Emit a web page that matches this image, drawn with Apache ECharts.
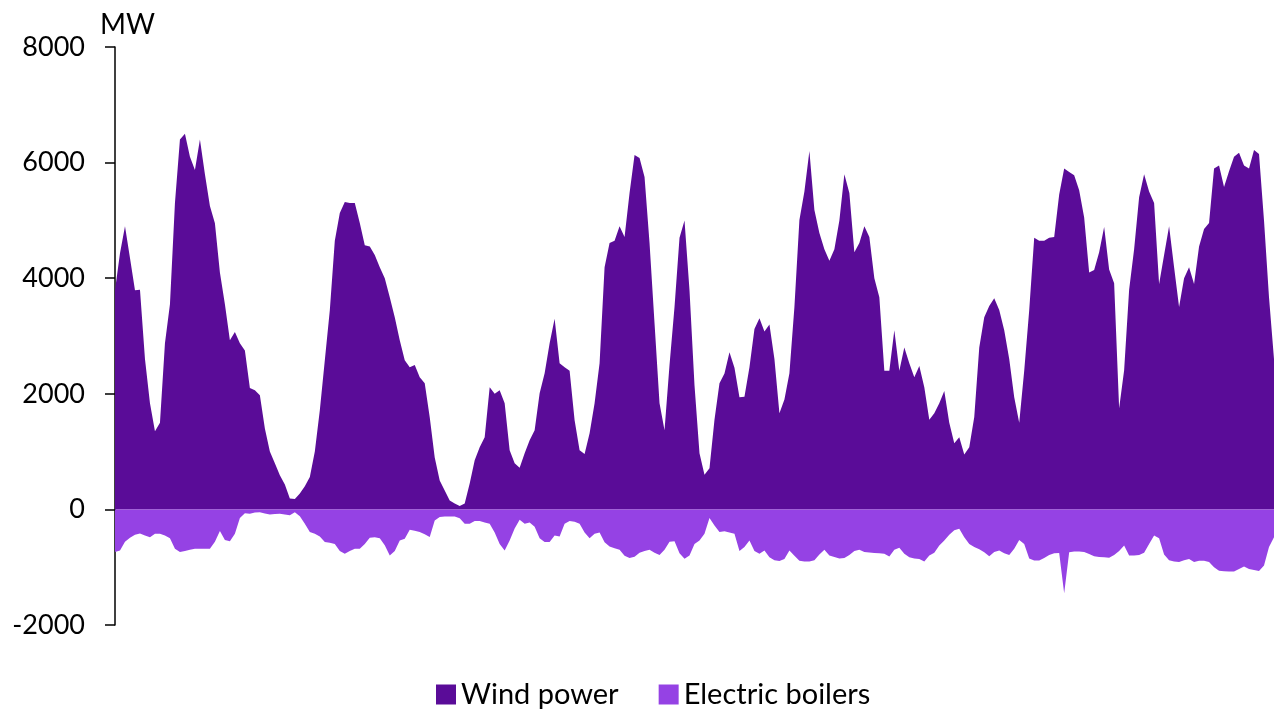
<!DOCTYPE html>
<html>
<head>
<meta charset="utf-8">
<script src="https://cdn.jsdelivr.net/npm/echarts@6/dist/echarts.min.js"></script>
<style>
html,body{margin:0;padding:0;background:#fff;}
#chart{width:1274px;height:710px;}
</style>
</head>
<body>
<div id="chart"></div>
<script>
// Sample index (uniform time steps across the period)
const windPower = [
3790,4430,4900,4350,3790,3800,2600,1836,1350,1500,
2875,3550,5300,6400,6500,6100,5870,6400,5800,5250,
4950,4100,3550,2927,3070,2875,2750,2100,2061,1974,
1400,1000,797,589,430,190,180,277,400,560,
1000,1715,2580,3447,4650,5127,5320,5300,5300,4953,
4570,4550,4400,4191,4000,3672,3325,2927,2580,2460,
2500,2286,2182,1593,900,502,329,156,104,60,
104,450,849,1074,1247,2113,2000,2061,1836,1022,
797,720,970,1195,1368,2009,2355,2875,3300,2529,
2460,2400,1541,1022,960,1316,1836,2529,4191,4607,
4650,4900,4711,5473,6131,6080,5750,4607,3221,1836,
1368,2500,3500,4700,5000,3793,2150,970,600,710,
1550,2182,2350,2719,2450,1940,1950,2460,3120,3308,
3080,3200,2600,1663,1900,2355,3500,5006,5500,6200,
5179,4780,4500,4300,4500,5000,5800,5473,4450,4607,
4900,4711,4000,3672,2400,2400,3100,2400,2800,2529,
2286,2480,2113,1550,1663,1836,2050,1500,1143,1250,
950,1074,1600,2800,3325,3520,3654,3450,3100,2600,
1940,1500,2400,3447,4700,4650,4650,4700,4711,5450,
5900,5837,5780,5520,5050,4100,4140,4450,4884,4150,
3914,1750,2407,3800,4500,5400,5800,5500,5300,3900,
4400,4900,4191,3500,4000,4191,3900,4550,4850,4953,
5900,5950,5577,5850,6100,6170,5950,5900,6218,6150,
5000,3672,2600
];
const electricBoilers = [
-739,-710,-560,-490,-440,-415,-450,-480,-421,-421,
-450,-500,-680,-739,-720,-700,-681,-681,-681,-681,
-560,-375,-530,-550,-420,-150,-65,-75,-55,-50,
-70,-87,-80,-75,-90,-100,-50,-120,-250,-392,
-420,-470,-565,-575,-600,-720,-767,-720,-681,-681,
-600,-490,-480,-500,-620,-796,-720,-537,-508,-352,
-370,-392,-430,-479,-190,-130,-121,-121,-121,-155,
-250,-250,-200,-200,-225,-248,-400,-600,-710,-537,
-330,-179,-248,-225,-300,-500,-565,-565,-450,-470,
-250,-200,-215,-250,-400,-500,-420,-400,-570,-640,
-670,-700,-800,-840,-820,-750,-720,-700,-750,-790,
-700,-560,-550,-760,-854,-796,-600,-540,-421,-150,
-280,-392,-380,-400,-421,-720,-650,-537,-720,-767,
-710,-830,-880,-894,-860,-710,-800,-890,-900,-900,
-880,-780,-700,-796,-825,-850,-840,-790,-720,-700,
-735,-745,-755,-760,-767,-814,-700,-664,-767,-830,
-850,-860,-900,-796,-750,-623,-537,-440,-360,-335,
-480,-600,-650,-690,-740,-810,-739,-710,-760,-790,
-680,-530,-600,-850,-883,-883,-840,-790,-760,-755,
-1450,-740,-727,-730,-739,-770,-810,-825,-830,-836,
-790,-720,-623,-796,-796,-790,-750,-600,-450,-500,
-780,-880,-900,-912,-880,-860,-912,-890,-890,-912,
-1000,-1060,-1070,-1073,-1073,-1030,-990,-1030,-1050,-1067,
-969,-650,-480
];
const categories = windPower.map((_, i) => i);
const seriesNames = ['Wind power', 'Electric boilers'];
const yTicks = { min: -2000, max: 8000, interval: 2000 };
const unitLabel = 'MW';

const FONT = 'Lato, "Open Sans", sans-serif';
const chart = echarts.init(document.getElementById('chart'));
chart.setOption({
  animation: false,
  backgroundColor: '#ffffff',
  grid: { left: 115, right: 0, top: 47, bottom: 85, containLabel: false },
  legend: {
    data: seriesNames,
    bottom: -4,
    left: 431,
    icon: 'rect',
    itemWidth: 20,
    itemHeight: 20,
    itemGap: 40,
    textStyle: { fontFamily: FONT, fontSize: 29, color: '#000' }
  },
  xAxis: {
    type: 'category',
    data: categories,
    boundaryGap: false,
    show: false
  },
  yAxis: {
    type: 'value',
    min: yTicks.min,
    max: yTicks.max,
    interval: yTicks.interval,
    name: unitLabel,
    nameLocation: 'end',
    nameGap: 8,
    nameTextStyle: { fontFamily: FONT, fontSize: 28, color: '#000', align: 'left', padding: [0, 0, 0, -15] },
    axisLine: { show: true, lineStyle: { color: '#000', width: 1.5 } },
    axisTick: { show: true, length: 10, lineStyle: { color: '#000', width: 1.5 } },
    axisLabel: { fontFamily: FONT, fontSize: 27, color: '#000', margin: 30, formatter: v => String(v) },
    splitLine: { show: false }
  },
  series: [
    {
      name: seriesNames[0],
      type: 'line',
      data: windPower,
      showSymbol: false,
      symbol: 'none',
      lineStyle: { width: 0 },
      itemStyle: { color: '#5A0C98' },
      areaStyle: { color: '#5A0C98', opacity: 1, origin: 'auto' },
      z: 2
    },
    {
      name: seriesNames[1],
      type: 'line',
      data: electricBoilers,
      showSymbol: false,
      symbol: 'none',
      lineStyle: { width: 0 },
      itemStyle: { color: '#9542E4' },
      areaStyle: { color: '#9542E4', opacity: 1, origin: 'auto' },
      z: 2
    }
  ]
});
</script>
</body>
</html>
